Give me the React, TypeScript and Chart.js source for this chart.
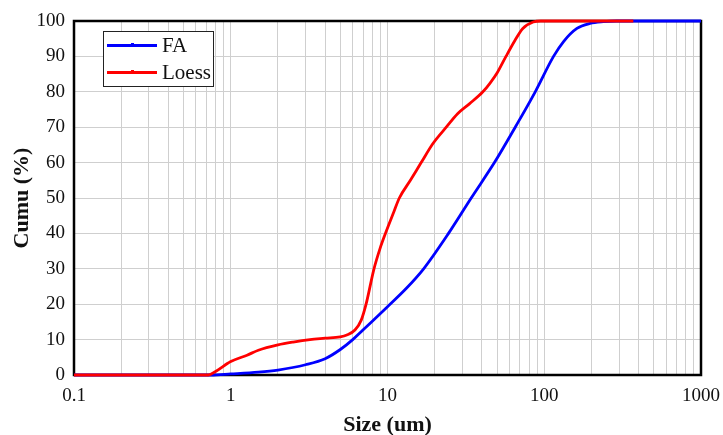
import React, { useEffect, useRef } from "react";
import { Chart, registerables } from "chart.js";

Chart.register(...registerables);

const faSizes = [0.1, 0.75, 1, 1.5, 2, 3, 4, 5, 6, 7, 8, 10, 13.2, 17, 24.5, 34.2, 48.1, 65.3, 87.6, 114.6, 132.8, 161.6, 196, 238, 290, 500, 1000];
const faValues = [0, 0, 0.3, 0.8, 1.4, 2.9, 4.6, 7.2, 10, 12.8, 15.2, 19.3, 24.5, 30, 40, 50, 60, 70, 80, 90, 94.2, 97.9, 99.3, 99.8, 100, 100, 100];

const loessSizes = [0.1, 0.72, 0.8, 1, 1.27, 1.5, 2, 2.5, 3.2, 4, 5, 5.5, 6.2, 6.8, 7.3, 8.2, 9, 9.7, 11, 11.9, 14, 16.4, 19.5, 23.7, 28, 33.3, 40.6, 45, 50, 57, 65, 73, 85, 95, 150, 370];
const loessValues = [0, 0, 1, 3.8, 5.6, 7, 8.5, 9.3, 10, 10.4, 10.8, 11.3, 12.7, 15.5, 20, 30, 36, 40, 46.2, 50, 55, 60, 65.4, 70, 73.8, 76.6, 80, 82.4, 85.3, 90, 94.5, 97.9, 99.7, 100, 100, 100];

const xTickLabels = ["0.1", "1", "10", "100", "1000"];
const minorMultipliers = [1, 2, 3, 4, 5, 6, 7, 8, 9];
const seriesNames = ["FA", "Loess"];
const seriesColors = ["#0000ff", "#ff0000"];

const SERIF = "'Liberation Serif', 'Times New Roman', serif";

const toPoints = (xs: number[], ys: number[]) => xs.map((x, i) => ({ x, y: ys[i] }));

export default function App() {
  const ref = useRef<HTMLCanvasElement | null>(null);

  useEffect(() => {
    const canvas = ref.current;
    if (!canvas) return;

    const decades = xTickLabels.map(Number);
    const tickValues: number[] = [];
    decades.forEach((d, i) => {
      if (i === decades.length - 1) tickValues.push(d);
      else minorMultipliers.forEach((m) => tickValues.push(+(d * m).toPrecision(6)));
    });

    const frame = {
      id: "frame",
      beforeDatasetsDraw(chart: any) {
        const { ctx, chartArea: a } = chart;
        ctx.save();
        ctx.strokeStyle = "#000";
        ctx.lineWidth = 2.5;
        ctx.strokeRect(a.left, a.top, a.right - a.left, a.bottom - a.top);
        ctx.restore();
      },
      afterDatasetsDraw(chart: any) {
        const { ctx } = chart;
        ctx.save();
        const bx = 103, by = 31, bw = 110, bh = 55;
        ctx.fillStyle = "#fff";
        ctx.fillRect(bx, by, bw, bh);
        ctx.strokeStyle = "#222";
        ctx.lineWidth = 1;
        ctx.strokeRect(bx + 0.5, by + 0.5, bw, bh);
        seriesNames.forEach((name, i) => {
          const y = 45.5 + i * 27;
          ctx.strokeStyle = seriesColors[i];
          ctx.lineWidth = 3;
          ctx.beginPath();
          ctx.moveTo(107, y);
          ctx.lineTo(157, y);
          ctx.stroke();
          ctx.fillStyle = seriesColors[i];
          ctx.fillRect(131, y - 2.5, 3, 3);
          ctx.fillStyle = "#111";
          ctx.font = `21px ${SERIF}`;
          ctx.textBaseline = "middle";
          ctx.textAlign = "left";
          ctx.fillText(name, 162, y + 1);
        });
        ctx.restore();
      },
    };

    const chart = new Chart(canvas, {
      type: "line",
      data: {
        datasets: [
          {
            label: seriesNames[0],
            data: toPoints(faSizes, faValues),
            borderColor: seriesColors[0],
            backgroundColor: seriesColors[0],
            borderWidth: 2.8,
            pointRadius: 0,
            cubicInterpolationMode: "monotone",
            order: 1,
            clip: 6,
          },
          {
            label: seriesNames[1],
            data: toPoints(loessSizes, loessValues),
            borderColor: seriesColors[1],
            backgroundColor: seriesColors[1],
            borderWidth: 2.8,
            pointRadius: 0,
            cubicInterpolationMode: "monotone",
            order: 0,
            clip: 6,
          },
        ],
      },
      options: {
        responsive: false,
        animation: false,
        layout: { padding: { top: 21, right: 22, left: 0, bottom: 0 } },
        plugins: { legend: { display: false }, tooltip: { enabled: false } },
        scales: {
          x: {
            type: "logarithmic",
            min: 0.1,
            max: 1000,
            afterBuildTicks: (scale: any) => {
              scale.ticks = tickValues.map((v) => ({ value: v }));
            },
            afterFit: (scale: any) => {
              scale.height = 60;
              scale.paddingLeft = 0;
              scale.paddingRight = 0;
            },
            grid: { color: "#cfcfcf", lineWidth: 1, drawTicks: false },
            border: { display: false },
            ticks: {
              autoSkip: false,
              maxRotation: 0,
              padding: 10,
              color: "#111",
              font: { family: SERIF, size: 19 },
              callback: (value: any) => {
                const idx = decades.findIndex((d) => Math.abs(d - Number(value)) < d * 1e-6);
                return idx >= 0 ? xTickLabels[idx] : "";
              },
            },
            title: {
              display: true,
              text: "Size (um)",
              color: "#111",
              font: { family: SERIF, size: 22, weight: "bold", lineHeight: 1 },
              padding: { top: 0, bottom: -1 },
            },
          },
          y: {
            min: 0,
            max: 100,
            afterFit: (scale: any) => {
              scale.width = 74;
              scale.paddingTop = 0;
              scale.paddingBottom = 0;
            },
            grid: { color: "#cfcfcf", lineWidth: 1, drawTicks: false },
            border: { display: false },
            ticks: {
              stepSize: 10,
              padding: 9,
              color: "#111",
              font: { family: SERIF, size: 19 },
            },
            title: {
              display: true,
              text: "Cumu (%)",
              color: "#111",
              font: { family: SERIF, size: 22, weight: "bold", lineHeight: 1 },
              padding: { top: 11, bottom: 0 },
            },
          },
        },
      },
      plugins: [frame],
    } as any);

    return () => chart.destroy();
  }, []);

  return (
    <div style={{ position: "fixed", left: 0, top: 0, width: 723, height: 435, background: "#fff" }}>
      <canvas ref={ref} width={723} height={435} />
    </div>
  );
}
